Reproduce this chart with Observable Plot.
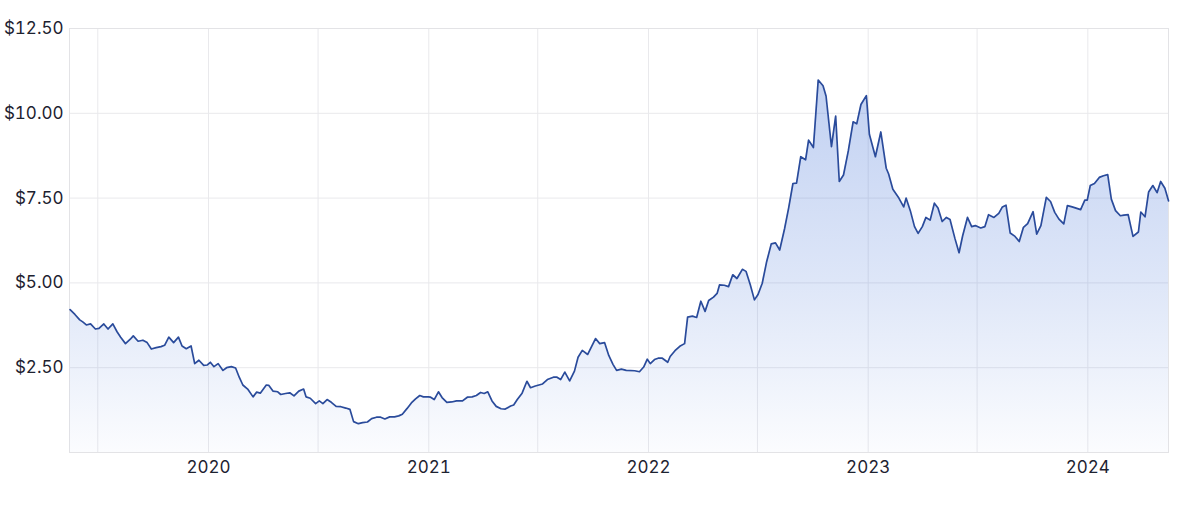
<!DOCTYPE html>
<html>
<head>
<meta charset="utf-8">
<script src="https://cdn.jsdelivr.net/npm/d3@7"></script>
<script src="https://cdn.jsdelivr.net/npm/@observablehq/plot@0.6"></script>
<style>
  html, body { margin: 0; padding: 0; background: #ffffff; }
  #chart svg { display: block; }
</style>
</head>
<body>
<div id="chart"></div>
<script>
const dates = [
  "2019-05-16","2019-05-24","2019-06-01","2019-06-06","2019-06-12","2019-06-19","2019-06-27","2019-07-03","2019-07-11","2019-07-18",
  "2019-07-26","2019-08-02","2019-08-08","2019-08-16","2019-08-24","2019-08-29","2019-09-06","2019-09-14","2019-09-21","2019-09-28",
  "2019-10-06","2019-10-14","2019-10-20","2019-10-27","2019-11-04","2019-11-12","2019-11-18","2019-11-25","2019-12-03","2019-12-09",
  "2019-12-16","2019-12-24","2019-12-30","2020-01-04","2020-01-10","2020-01-17","2020-01-25","2020-01-31","2020-02-08","2020-02-15",
  "2020-02-21","2020-02-27","2020-03-06","2020-03-15","2020-03-21","2020-03-27","2020-04-06","2020-04-10","2020-04-17","2020-04-25",
  "2020-04-30","2020-05-08","2020-05-15","2020-05-22","2020-05-30","2020-06-07","2020-06-11","2020-06-18","2020-06-27","2020-07-03",
  "2020-07-09","2020-07-16","2020-07-23","2020-07-31","2020-08-08","2020-08-16","2020-08-23","2020-08-29","2020-09-06","2020-09-13",
  "2020-09-21","2020-09-28","2020-10-06","2020-10-13","2020-10-20","2020-10-28","2020-11-05","2020-11-12","2020-11-18","2020-11-26",
  "2020-12-03","2020-12-10","2020-12-17","2020-12-23","2020-12-31","2021-01-04","2021-01-10","2021-01-17","2021-01-23","2021-01-31",
  "2021-02-08","2021-02-16","2021-02-26","2021-03-06","2021-03-14","2021-03-21","2021-03-28","2021-04-03","2021-04-09","2021-04-16",
  "2021-04-23","2021-05-01","2021-05-08","2021-05-17","2021-05-22","2021-05-28","2021-06-05","2021-06-13","2021-06-19","2021-06-27",
  "2021-07-09","2021-07-17","2021-07-27","2021-08-02","2021-08-08","2021-08-15","2021-08-23","2021-08-31","2021-09-06","2021-09-13",
  "2021-09-22","2021-10-05","2021-10-12","2021-10-20","2021-10-27","2021-11-03","2021-11-09","2021-11-17","2021-11-25","2021-12-09",
  "2021-12-17","2021-12-24","2021-12-30","2022-01-04","2022-01-11","2022-01-17","2022-01-24","2022-02-02","2022-02-06","2022-02-14",
  "2022-02-22","2022-03-02","2022-03-07","2022-03-15","2022-03-22","2022-03-29","2022-04-05","2022-04-11","2022-04-19","2022-04-25",
  "2022-04-29","2022-05-07","2022-05-14","2022-05-21","2022-05-28","2022-06-06","2022-06-12","2022-06-19","2022-06-26","2022-07-02",
  "2022-07-09","2022-07-16","2022-07-24","2022-07-31","2022-08-07","2022-08-15","2022-08-22","2022-08-29","2022-09-04","2022-09-11",
  "2022-09-19","2022-09-24","2022-10-02","2022-10-10","2022-10-18","2022-10-23","2022-11-01","2022-11-08","2022-11-14","2022-11-21",
  "2022-11-29","2022-12-07","2022-12-13","2022-12-20","2022-12-29","2023-01-03","2023-01-13","2023-01-22","2023-01-31","2023-02-04",
  "2023-02-11","2023-02-21","2023-03-01","2023-03-05","2023-03-12","2023-03-19","2023-03-25","2023-04-01","2023-04-07","2023-04-14",
  "2023-04-21","2023-04-27","2023-05-04","2023-05-11","2023-05-17","2023-05-25","2023-06-01","2023-06-07","2023-06-15","2023-06-22",
  "2023-06-28","2023-07-07","2023-07-14","2023-07-20","2023-07-29","2023-08-06","2023-08-12","2023-08-18","2023-08-25","2023-09-02",
  "2023-09-09","2023-09-16","2023-09-23","2023-10-02","2023-10-08","2023-10-15","2023-10-24","2023-10-31","2023-11-07","2023-11-14",
  "2023-11-22","2023-11-28","2023-12-06","2023-12-20","2023-12-27","2023-12-31","2024-01-05","2024-01-12","2024-01-20","2024-01-27",
  "2024-02-03","2024-02-09","2024-02-16","2024-02-24","2024-03-01","2024-03-08","2024-03-16","2024-03-25","2024-03-29","2024-04-05",
  "2024-04-11","2024-04-18","2024-04-25","2024-05-01","2024-05-08","2024-05-14"
];

const prices = [
  4.21,4.07,3.91,3.85,3.76,3.79,3.64,3.66,3.79,3.64,
  3.79,3.56,3.40,3.21,3.34,3.44,3.28,3.31,3.24,3.05,
  3.09,3.12,3.16,3.40,3.24,3.40,3.14,3.06,3.14,2.62,
  2.72,2.57,2.58,2.66,2.53,2.62,2.42,2.50,2.53,2.49,
  2.22,1.99,1.87,1.64,1.78,1.75,1.99,1.98,1.81,1.79,
  1.71,1.74,1.76,1.67,1.81,1.87,1.64,1.60,1.44,1.52,
  1.44,1.56,1.48,1.36,1.35,1.31,1.27,0.91,0.85,0.88,
  0.90,1.00,1.04,1.04,0.99,1.05,1.05,1.08,1.13,1.30,
  1.46,1.58,1.68,1.64,1.64,1.63,1.56,1.79,1.62,1.48,
  1.49,1.52,1.52,1.63,1.64,1.68,1.77,1.74,1.79,1.52,
  1.36,1.29,1.28,1.37,1.40,1.56,1.75,2.10,1.91,1.96,
  2.02,2.15,2.22,2.22,2.15,2.37,2.11,2.40,2.81,3.01,
  2.89,3.36,3.21,3.24,2.86,2.60,2.42,2.46,2.42,2.41,
  2.38,2.52,2.75,2.62,2.74,2.78,2.78,2.66,2.83,3.00,
  3.13,3.21,3.99,4.02,3.98,4.46,4.16,4.48,4.58,4.69,
  4.94,4.93,4.89,5.24,5.13,5.40,5.34,4.95,4.50,4.66,
  4.99,5.60,6.15,6.18,5.97,6.59,7.22,7.93,7.94,8.72,
  8.63,9.21,8.99,10.98,10.81,10.51,9.02,9.92,7.99,8.18,
  8.89,9.75,9.69,10.26,10.52,9.38,8.72,9.45,8.38,8.21,
  7.76,7.50,7.24,7.50,7.13,6.66,6.46,6.66,6.93,6.85,
  7.35,7.21,6.81,6.93,6.87,6.32,5.89,6.39,6.93,6.66,
  6.69,6.62,6.66,7.01,6.93,7.05,7.24,7.29,6.47,6.37,
  6.22,6.64,6.75,7.10,6.44,6.69,7.52,7.40,7.08,6.88,
  6.74,7.28,7.24,7.16,7.44,7.44,7.87,7.93,8.11,8.16,
  8.19,7.47,7.13,6.98,7.00,7.01,6.37,6.50,7.09,6.95,
  7.68,7.87,7.66,7.99,7.79,7.42
];

const yTicks = [2.5, 5, 7.5, 10, 12.5];
const yearTicks = ["2020-01-01","2021-01-01","2022-01-01","2023-01-01","2024-01-01"];
const gridDates = ["2019-07-01","2020-01-01","2020-07-01","2021-01-01","2021-07-01","2022-01-01","2022-07-01","2023-01-01","2023-07-01","2024-01-01"];
const xDomain = ["2019-05-15","2024-05-14"];

const parse = d3.utcParse("%Y-%m-%d");
const data = dates.map((d, i) => ({date: parse(d), price: prices[i]}));

const chart = Plot.plot({
  width: 1177,
  height: 500,
  marginLeft: 69,
  marginRight: 9,
  marginTop: 28,
  marginBottom: 48,
  style: {fontFamily: "Inter, 'Noto Sans', sans-serif", fontSize: "17px", color: "#1d2230", background: "#ffffff", overflow: "visible"},
  x: {type: "utc", domain: xDomain.map(parse), ticks: yearTicks.map(parse), tickFormat: d3.utcFormat("%Y"), tickSize: 0, tickPadding: 8, label: null},
  y: {domain: [0, 12.5], ticks: yTicks, tickFormat: d => "$" + d.toFixed(2), tickSize: 0, tickPadding: 6, label: null},
  marks: [
    Plot.ruleY(yTicks, {stroke: "#e9e9ec", strokeWidth: 1}),
    Plot.ruleX(gridDates.map(parse), {stroke: "#e9e9ec", strokeWidth: 1}),
    Plot.frame({stroke: "#e3e3e6", strokeWidth: 1}),
    Plot.areaY(data, {x: "date", y: "price", fill: "url(#areaGrad)"}),
    Plot.lineY(data, {x: "date", y: "price", stroke: "#2a4b9b", strokeWidth: 1.7, strokeLinejoin: "round"})
  ]
});

const svg = chart.tagName.toLowerCase() === "svg" ? chart : chart.querySelector("svg");
const ns = "http://www.w3.org/2000/svg";
const defs = document.createElementNS(ns, "defs");
const grad = document.createElementNS(ns, "linearGradient");
grad.setAttribute("id", "areaGrad");
grad.setAttribute("x1", "0"); grad.setAttribute("y1", "0");
grad.setAttribute("x2", "0"); grad.setAttribute("y2", "1");
[["0%", "#3e6fd6", 0.32], ["55%", "#3e6fd6", 0.17], ["100%", "#3e6fd6", 0.02]].forEach(([o, c, a]) => {
  const s = document.createElementNS(ns, "stop");
  s.setAttribute("offset", o);
  s.setAttribute("stop-color", c);
  s.setAttribute("stop-opacity", a);
  grad.appendChild(s);
});
defs.appendChild(grad);
svg.insertBefore(defs, svg.firstChild);

document.getElementById("chart").appendChild(chart);
</script>
</body>
</html>
